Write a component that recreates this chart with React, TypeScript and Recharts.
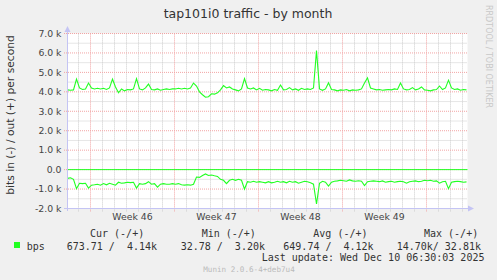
import { LineChart, Line, XAxis, YAxis, ReferenceLine, ReferenceArea } from "recharts";

// bits per second, sampled every 6 hours (k units)
const outK = [
  4.1, 4.08, 4.1, 4.65, 4.2, 4.12, 4.15, 4.45, 4.2, 4.15,
  4.18, 4.15, 4.18, 4.12, 4.2, 4.65, 4.25, 3.95, 4.15, 4.05,
  4.12, 4.1, 4.15, 4.68, 4.15, 4.1, 4.2, 4.4, 4.12, 4.1,
  4.15, 4.08, 4.12, 4.15, 4.12, 4.15, 4.15, 4.18, 4.15, 4.18,
  4.15, 4.2, 4.45, 4.3, 4.0, 3.85, 3.72, 3.75, 3.9, 3.88,
  3.95, 4.1, 4.32, 4.2, 4.25, 4.15, 4.1, 4.05, 4.15, 4.68,
  4.2, 4.15, 4.2, 4.1, 4.18, 4.08, 4.12, 4.1, 4.05, 4.12,
  4.08, 4.35, 4.1, 4.12, 4.22, 4.1, 4.15, 4.08, 4.18, 4.12,
  4.15, 4.12, 4.2, 6.12, 4.15, 4.08, 4.15, 4.46, 4.12, 4.1,
  4.05, 4.1, 4.08, 4.12, 4.05, 4.1, 4.08, 4.1, 4.15, 4.45,
  4.72, 4.2, 4.15, 4.1, 4.12, 4.08, 4.1, 4.12, 4.1, 4.15,
  4.12, 4.45, 4.15, 4.1, 4.12, 4.22, 4.1, 4.15, 4.25, 4.1,
  4.08, 4.05, 4.1, 4.12, 4.3, 4.12, 4.2, 4.6, 4.2, 4.12,
  4.15, 4.08, 4.12, 4.1,
];

// "in" direction, drawn below zero
const inK = [
  0.45, 0.42, 0.5, 0.98, 0.7, 0.72, 0.7, 0.95, 0.8, 0.78,
  0.75, 0.8, 0.72, 0.78, 0.7, 0.75, 0.8, 0.65, 0.7, 0.68,
  0.65, 0.67, 0.65, 0.95, 0.72, 0.75, 0.72, 0.62, 0.75, 0.72,
  0.9, 0.75, 0.72, 0.75, 0.75, 0.72, 0.75, 0.72, 0.78, 0.8,
  0.78, 0.8, 0.75, 0.38, 0.4, 0.3, 0.22, 0.3, 0.28, 0.32,
  0.35, 0.5, 0.55, 0.72, 0.55, 0.5, 0.55, 0.5, 0.55, 1.0,
  0.62, 0.65, 0.6, 0.65, 0.62, 0.65, 0.68, 0.62, 0.68, 0.65,
  0.6, 0.65, 0.62, 0.68, 0.6, 0.65, 0.62, 0.7, 0.65, 0.6,
  0.62, 0.68, 0.75, 1.77, 0.7, 0.6, 0.65, 0.85, 0.65, 0.6,
  0.58, 0.55, 0.57, 0.6, 0.53, 0.58, 0.6, 0.57, 0.6, 0.82,
  0.62, 0.6, 0.58, 0.6, 0.62, 0.58, 0.65, 0.62, 0.6, 0.65,
  0.62, 0.6, 0.62, 0.7, 0.62, 0.6, 0.58, 0.62, 0.6, 0.55,
  0.57, 0.55, 0.6, 0.58, 0.7, 0.62, 0.6, 0.98, 0.65, 0.62,
  0.6, 0.62, 0.65, 0.63,
];

const STEP_H = 6; // hours between samples
const weekTicks = [130, 298, 466, 634];
const weekLabels = ["Week 46", "Week 47", "Week 48", "Week 49"];
const weekLines = [46, 214, 382, 550, 718];
const yTicks = [-2000, -1000, 0, 1000, 2000, 3000, 4000, 5000, 6000, 7000];
const yMinor = [-1500, -500, 500, 1500, 2500, 3500, 4500, 5500, 6500];

const legendHeads = ["Cur (-/+)", "Min (-/+)", "Avg (-/+)", "Max (-/+)"];
const legendVals = ["673.71 /  4.14k", "32.78 /  3.20k", "649.74 /  4.12k", "14.70k/ 32.81k"];

const GREEN = "#22ff22";
const AXIS = "#c4c4f4";
const MAJOR = "#f2a4a4";
const MINOR = "#cccccc";

const data = outK.map((v, i) => ({ t: i * STEP_H, out: v * 1000, in: -inK[i] * 1000 }));

const dayLines: number[] = [];
for (let h = 22; h < 800; h += 24) if (!weekLines.includes(h)) dayLines.push(h);

const fmtY = (v: number) => (v === 0 ? "0.0" : `${(v / 1000).toFixed(1)} k`);

export default function App() {
  const mono = "DejaVu Sans Mono";
  return (
    <div style={{ position: "absolute", left: 0, top: 0, width: 497, height: 280, background: "#f0f0f0" }}>
      <LineChart width={497} height={280} data={data} margin={{ top: 33.5, right: 29.5, bottom: 0, left: 0 }}>
        <ReferenceArea x1={0} x2={800} y1={-2000} y2={7000} fill="#ffffff" fillOpacity={1} stroke="none" />
        {yMinor.map((v) => (
          <ReferenceLine key={`ym${v}`} y={v} stroke={MINOR} strokeDasharray="1 1" />
        ))}
        {dayLines.map((h) => (
          <ReferenceLine key={`d${h}`} segment={[{ x: h, y: -2150 }, { x: h, y: 7000 }]} ifOverflow="visible" stroke={MINOR} strokeDasharray="1 1" />
        ))}
        {yTicks.map((v) => (
          <ReferenceLine key={`yM${v}`} segment={[{ x: -7, y: v }, { x: 800, y: v }]} ifOverflow="visible" stroke={MAJOR} strokeDasharray="1 1" />
        ))}
        {weekLines.map((h) => (
          <ReferenceLine key={`w${h}`} segment={[{ x: h, y: -2150 }, { x: h, y: 7000 }]} ifOverflow="visible" stroke={MAJOR} strokeDasharray="1 1" />
        ))}
        <XAxis
          dataKey="t"
          type="number"
          domain={[0, 800]}
          ticks={weekTicks}
          interval={0}
          tickFormatter={(v: number) => weekLabels[weekTicks.indexOf(v)]}
          height={71.5}
          axisLine={false}
          tickLine={false}
          tickSize={2}
          tickMargin={3}
          tick={{ fill: "#444", fontSize: 9.3, fontFamily: "DejaVu Sans" }}
        />
        <YAxis
          type="number"
          domain={[-2000, 7000]}
          ticks={yTicks}
          interval={0}
          tickFormatter={fmtY}
          width={67.5}
          axisLine={false}
          tickLine={false}
          tickSize={2}
          tickMargin={4}
          tick={{ fill: "#444", fontSize: 9.3, fontFamily: "DejaVu Sans" }}
        />
        <ReferenceLine y={0} stroke={GREEN} strokeWidth={1} />
        <Line type="linear" dataKey="out" stroke={GREEN} strokeWidth={1.1} dot={false} isAnimationActive={false} />
        <Line type="linear" dataKey="in" stroke={GREEN} strokeWidth={1.1} dot={false} isAnimationActive={false} />
      </LineChart>

      <svg width={497} height={280} style={{ position: "absolute", left: 0, top: 0, pointerEvents: "none" }}>
        {/* axes with arrows */}
        <line x1={67.5} y1={211} x2={67.5} y2={30} stroke={AXIS} />
        <polygon points="67.5,26 64.5,32 70.5,32" fill={AXIS} />
        <line x1={64} y1={208.5} x2={470} y2={208.5} stroke={AXIS} />
        <polygon points="474,208.5 468,205.5 468,211.5" fill={AXIS} />

        <text x={248} y={18} textAnchor="middle" fontFamily="DejaVu Sans" fontSize={12.5} fill="#333">
          tap101i0 traffic - by month
        </text>
        <text transform="translate(13.6,115) rotate(-90)" textAnchor="middle" fontFamily="DejaVu Sans" fontSize={10.7} fill="#333">
          bits in (-) / out (+) per second
        </text>
        <text transform="translate(486,56.5) rotate(90)" textAnchor="middle" fontFamily="DejaVu Sans" fontSize={8} fill="#c8c8c8">
          RRDTOOL / TOBI OETIKER
        </text>

        {legendHeads.map((s, i) => (
          <text key={s} x={[90, 201.7, 313.3, 424][i]} y={237} fontFamily={mono} fontSize={10} fill="#333" style={{ whiteSpace: "pre" }}>
            {s}
          </text>
        ))}
        <rect x={14} y={242} width={6} height={6} fill={GREEN} />
        <text x={26.7} y={249.5} fontFamily={mono} fontSize={10} fill="#333">bps</text>
        {legendVals.map((s, i) => (
          <text key={s} x={[66.7, 180.7, 283.3, 396.7][i]} y={249.5} fontFamily={mono} fontSize={10} fill="#333" style={{ whiteSpace: "pre" }}>
            {s}
          </text>
        ))}
        <text x={261.7} y={260.5} fontFamily={mono} fontSize={10} fill="#333" style={{ whiteSpace: "pre" }}>
          Last update: Wed Dec 10 06:30:03 2025
        </text>
        <text x={203.3} y={271.5} fontFamily={mono} fontSize={7.6} fill="#bbb">
          Munin 2.0.6-4+deb7u4
        </text>
      </svg>
    </div>
  );
}
